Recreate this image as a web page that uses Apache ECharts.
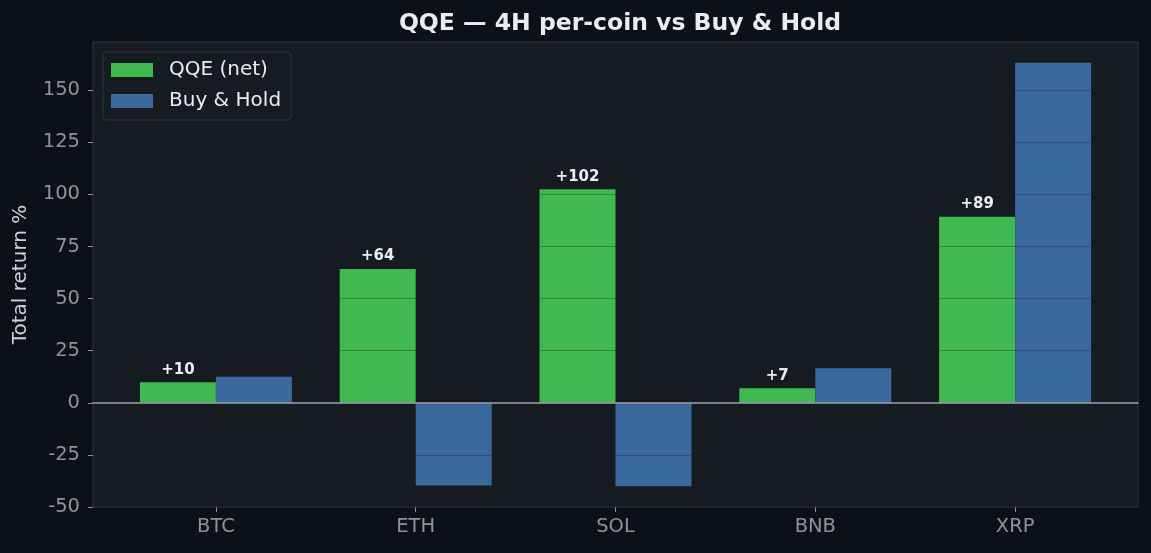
<!DOCTYPE html>
<html>
<head>
<meta charset="utf-8">
<title>QQE 4H per-coin vs Buy & Hold</title>
<script src="https://cdn.jsdelivr.net/npm/echarts@6.0.0/dist/echarts.min.js"></script>
<style>
  html, body { margin: 0; padding: 0; background: #0d1117; }
  #chart { width: 1151px; height: 553px; }
</style>
</head>
<body>
<div id="chart"></div>
<script>
var coins = ['BTC', 'ETH', 'SOL', 'BNB', 'XRP'];
var qqeNet = [9.8, 64.2, 102.4, 7.0, 89.2];
var buyHold = [12.5, -39.7, -40.1, 16.6, 163.2];
var yTicks = [-50, -25, 0, 25, 50, 75, 100, 125, 150];

var font = 'DejaVu Sans';
var yMin = -50, yMax = 173.1;

var chart = echarts.init(document.getElementById('chart'));

var option = {
    backgroundColor: '#0d1117',
    animation: false,
    title: {
        text: 'QQE — 4H per-coin vs Buy & Hold',
        left: 615,
        textAlign: 'center',
        top: 7,
        textStyle: { color: '#e6edf3', fontFamily: font, fontWeight: 'bold', fontSize: 23.5 }
    },
    legend: {
        data: ['QQE (net)', 'Buy & Hold'],
        orient: 'vertical',
        left: 103,
        top: 52,
        padding: [8, 10, 9, 8],
        itemWidth: 42,
        itemHeight: 14,
        itemGap: 11,
        icon: 'rect',
        backgroundColor: '#161b22',
        borderColor: '#30363d',
        borderWidth: 1,
        borderRadius: 4,
        textStyle: { color: '#e6edf3', fontFamily: font, fontSize: 20, padding: [0, 0, 0, 11] }
    },
    grid: [
        // frame: background, border, y axis, grid lines, zero line
        { left: 93, top: 42, width: 1045, height: 465, show: true,
          backgroundColor: '#161b22', borderColor: '#30363d', borderWidth: 1 },
        // bars: narrower so categories sit where the reference ticks are
        { left: 116, top: 42, width: 999, height: 465 }
    ],
    xAxis: [
        {
            type: 'value', gridIndex: 0, min: 0, max: 1, z: 5,
            axisLine: { show: true, onZero: true, lineStyle: { color: '#9aa3ad', width: 1.5 } },
            axisTick: { show: false },
            axisLabel: { show: false },
            splitLine: { show: false }
        },
        {
            type: 'category', gridIndex: 1, data: coins,
            axisLine: { show: false, onZero: false },
            axisTick: { show: true, alignWithLabel: true, length: 5, lineStyle: { color: '#8b949e' } },
            axisLabel: { color: '#8b949e', fontFamily: font, fontSize: 19.5, margin: 10 }
        }
    ],
    yAxis: [
        {
            type: 'value', gridIndex: 0, min: yMin, max: yMax, interval: 25, z: 5,
            name: 'Total return %',
            nameLocation: 'middle',
            nameGap: 62,
            nameTextStyle: { color: '#c9d1d9', fontFamily: font, fontSize: 20 },
            axisLine: { show: false },
            axisTick: { show: true, length: 5, customValues: yTicks, lineStyle: { color: '#8b949e' } },
            axisLabel: { color: '#8b949e', fontFamily: font, fontSize: 19.5, margin: 13, customValues: yTicks },
            splitLine: { show: true, lineStyle: { color: '#21262d', opacity: 0.35, width: 1 } }
        },
        {
            type: 'value', gridIndex: 1, min: yMin, max: yMax, show: false,
            splitLine: { show: false }
        }
    ],
    series: [
        {
            name: 'QQE (net)',
            type: 'bar',
            xAxisIndex: 1, yAxisIndex: 1,
            data: qqeNet,
            barWidth: 76,
            barGap: '0%',
            itemStyle: { color: '#3fb950' },
            label: {
                show: true,
                position: 'top',
                distance: 5,
                color: '#e6edf3',
                fontFamily: font,
                fontWeight: 'bold',
                fontSize: 15,
                formatter: function (p) {
                    var v = Math.round(p.value);
                    return (v >= 0 ? '+' : '') + v;
                }
            }
        },
        {
            name: 'Buy & Hold',
            type: 'bar',
            xAxisIndex: 1, yAxisIndex: 1,
            data: buyHold,
            barWidth: 76,
            barGap: '0%',
            itemStyle: { color: '#3a699e' }
        }
    ]
};

chart.setOption(option);
</script>
</body>
</html>
